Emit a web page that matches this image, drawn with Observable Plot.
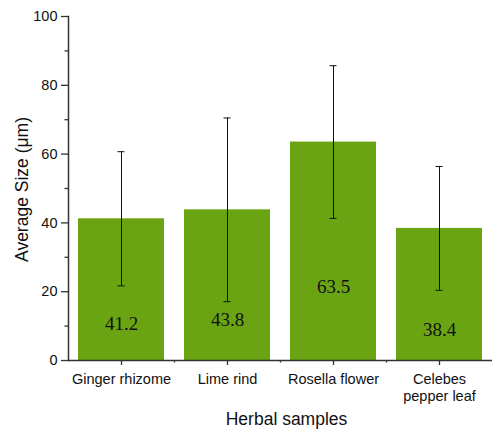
<!DOCTYPE html>
<html><head><meta charset="utf-8">
<script src="https://cdn.jsdelivr.net/npm/d3@7"></script>
<script src="https://cdn.jsdelivr.net/npm/@observablehq/plot@0.6"></script>
<style>body{margin:0;background:#fff}</style>
</head><body><div id="chart"></div>
<script>
const categories = ["Ginger rhizome", "Lime rind", "Rosella flower", "Celebes pepper leaf"];
const tickLabels = ["Ginger rhizome", "Lime rind", "Rosella flower", "Celebes\npepper leaf"];
const values = [41.2, 43.8, 63.5, 38.4];
const errors = [19.5, 26.7, 22.2, 18.0];
const labelAt = [10.5, 11.9, 21.5, 9.0];
const yMajor = [0, 20, 40, 60, 80, 100];
const yMinor = [10, 30, 50, 70, 90];
const xTitle = "Herbal samples";
const yTitle = "Average Size (\u03bcm)";

const data = categories.map((c, i) => ({c, v: values[i], e: errors[i], ly: labelAt[i]}));
const W = 492, H = 429, ML = 68, MR = 0, MT = 16, MB = 69;
const halfStep = (W - ML - MR) / categories.length / 2;
const axisColor = "#333";

const chart = Plot.plot({
  width: W, height: H,
  marginLeft: ML, marginRight: MR, marginTop: MT, marginBottom: MB,
  style: {fontFamily: "Liberation Sans, Arial, sans-serif", fontSize: "14px", color: "#111", background: "#fff"},
  x: {domain: categories, paddingInner: 0.19, paddingOuter: 0.095, axis: null},
  y: {domain: [0, 100], axis: null},
  marks: [
    Plot.barY(data, {x: "c", y: "v", fill: "#6ba413"}),
    Plot.ruleX(data, {x: "c", y1: d => d.v - d.e, y2: d => d.v + d.e, stroke: "#111", strokeWidth: 1}),
    Plot.tickY(data, {x: "c", y: d => d.v - d.e, stroke: "#111", strokeWidth: 1, insetLeft: 39.5, insetRight: 39.5}),
    Plot.tickY(data, {x: "c", y: d => d.v + d.e, stroke: "#111", strokeWidth: 1, insetLeft: 39.5, insetRight: 39.5}),
    Plot.text(data, {x: "c", y: "ly", text: d => d.v.toFixed(1), fontFamily: "Liberation Serif, serif", fontSize: 19, fill: "#111"}),
    Plot.axisY({ticks: yMajor, tickSize: 7, tickPadding: 4, fontSize: 14.5, label: null, stroke: axisColor, strokeWidth: 1.3}),
    Plot.axisY({ticks: yMinor, tickSize: 3.5, text: null, label: null, stroke: axisColor, strokeWidth: 1.3}),
    Plot.axisX({tickSize: 5, tickPadding: 6, fontSize: 14.5, lineHeight: 1.2, label: null, stroke: axisColor, strokeWidth: 1.3,
      tickFormat: d => tickLabels[categories.indexOf(d)]}),
    Plot.axisX({ticks: categories.slice(1), tickSize: 2.5, text: null, label: null, dx: -halfStep, stroke: axisColor, strokeWidth: 1.3}),
    Plot.ruleY([0], {stroke: axisColor, strokeWidth: 1.5}),
    Plot.frame({anchor: "left", stroke: axisColor, strokeWidth: 1.5}),
    Plot.text([yTitle], {frameAnchor: "left", dx: -46, dy: 1, rotate: -90, textAnchor: "middle", lineAnchor: "middle", fontSize: 17.5, fill: "#111"}),
    Plot.text([xTitle], {frameAnchor: "bottom", dx: 6, dy: 59, textAnchor: "middle", lineAnchor: "middle", fontSize: 17.5, fill: "#111"})
  ]
});
document.getElementById("chart").appendChild(chart);
</script>
</body></html>
